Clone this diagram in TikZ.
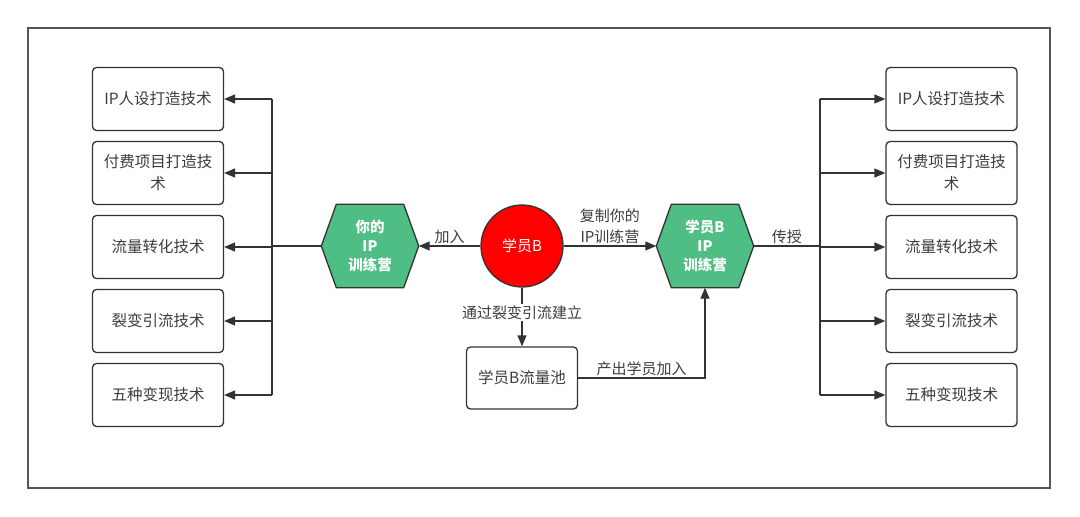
\documentclass[tikz,border=0pt]{standalone}
\usepackage{fontspec}
\setmainfont{Noto Sans CJK SC}
\usetikzlibrary{arrows.meta,positioning,backgrounds}
\definecolor{ink}{HTML}{333333}
\definecolor{framegray}{HTML}{555555}
\definecolor{hexgreen}{HTML}{4FBE84}
\definecolor{textgray}{HTML}{3C3C3C}
\tikzset{
  skill/.style={draw=ink,line width=1.3pt,rounded corners=4pt,minimum width=131pt,
    minimum height=63pt,align=center,font=\fontsize{15.5}{22}\selectfont,text=textgray,inner sep=0pt},
  hexcore/.style={minimum width=97pt,minimum height=83pt,inner sep=0pt,align=center,
    text=white,font=\fontsize{14.5}{19}\selectfont\bfseries},
  hexframe/.style={draw=ink,line width=1.3pt,fill=hexgreen},
  student/.style={circle,draw=ink,line width=1.3pt,fill=red,minimum size=82pt,inner sep=0pt,
    text=white,font=\fontsize{15}{18}\selectfont},
  arrow/.style={-{Triangle[length=11pt,width=9pt]},draw=ink,line width=1.3pt},
  link/.style={draw=ink,line width=1.3pt},
  labelstyle/.style={font=\fontsize{15}{21}\selectfont,text=textgray,align=center,inner sep=1.5pt}
}
\begin{document}
\begin{tikzpicture}[x=1pt,y=-1pt,node distance=9.7pt]
  \useasboundingbox (0,0) rectangle (1080,517);
  \draw[draw=framegray,line width=1.6pt] (28,28) rectangle (1050,488);
  % centre
  \node[student] (b) at (522,246) {学员B};
  \node[hexcore] (yours) at (370,246) {你的\\IP\\训练营};
  \node[hexcore] (bcamp) at (705,246) {学员B\\IP\\训练营};
  \node[skill,minimum width=111pt,minimum height=62pt] (pool) at (522,378) {学员B流量池};
  \begin{scope}[on background layer]
    \foreach \h in {yours,bcamp}
      \draw[hexframe] (\h.west) -- ([xshift=15pt]\h.north west) -- ([xshift=-15pt]\h.north east)
        -- (\h.east) -- ([xshift=-15pt]\h.south east) -- ([xshift=15pt]\h.south west) -- cycle;
  \end{scope}
  % left column
  \node[skill] (l1) at (158,99) {IP人设打造技术};
  \node[skill,below=of l1] (l2) {付费项目打造技\\术};
  \node[skill,below=of l2] (l3) {流量转化技术};
  \node[skill,below=of l3] (l4) {裂变引流技术};
  \node[skill,below=of l4] (l5) {五种变现技术};
  % right column
  \node[skill] (r1) at (951.5,99) {IP人设打造技术};
  \node[skill,below=of r1] (r2) {付费项目打造技\\术};
  \node[skill,below=of r2] (r3) {流量转化技术};
  \node[skill,below=of r3] (r4) {裂变引流技术};
  \node[skill,below=of r4] (r5) {五种变现技术};
  \coordinate (lbus) at (272,246);
  \coordinate (rbus) at (820,246);
  % connectors
  \draw[arrow] (b) -- node[labelstyle,above] {加入} (yours.east);
  \draw[arrow] (b) -- node[labelstyle,above] {复制你的\\IP训练营} (bcamp.west);
  \draw[arrow] (b) -- node[labelstyle,fill=white,pos=0.42] {通过裂变引流建立} (pool);
  \draw[arrow] (pool.east) -| node[labelstyle,above,pos=0.25] {产出学员加入} (bcamp.south);
  \draw[link] (yours.west) -- (lbus);
  \draw[link] (bcamp.east) -- node[labelstyle,above] {传授} (rbus);
  \draw[link] (l1.east -| lbus) -- (l5.east -| lbus);
  \draw[link] (r1.west -| rbus) -- (r5.west -| rbus);
  \foreach \i in {1,...,5} {
    \draw[arrow] (l\i.east -| lbus) -- (l\i.east);
    \draw[arrow] (r\i.west -| rbus) -- (r\i.west);
  }
\end{tikzpicture}
\end{document}
